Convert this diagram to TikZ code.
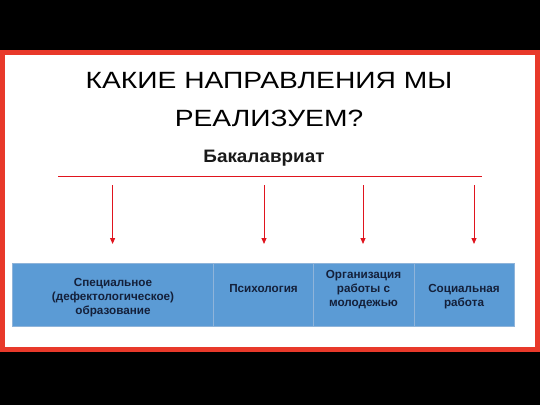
\documentclass[tikz,border=0pt]{standalone}
\usepackage{fontspec}
\setmainfont{Liberation Sans}
\newfontfamily\widefont[FakeStretch=1.2]{Liberation Sans}
\newfontfamily\subfont[FakeStretch=1.05]{Liberation Sans}
\usetikzlibrary{arrows.meta}
\definecolor{frame}{HTML}{E8392A}
\definecolor{arrred}{HTML}{E0141E}
\definecolor{cellblue}{HTML}{5B9BD5}
\definecolor{cellline}{HTML}{8FB4DA}
\definecolor{celltext}{HTML}{14203A}
\tikzset{
  title/.style={font=\widefont\fontsize{23.5}{38}\selectfont, align=center, text=black},
  sub/.style={font=\subfont\fontsize{18}{20}\selectfont\bfseries, text=black!90},
  cell/.style={fill=cellblue, draw=cellline, line width=0.6pt, minimum height=63pt, inner sep=0pt},
  celltxt/.style={font=\fontsize{11.7}{14}\selectfont\bfseries, text=celltext, align=center},
  downarrow/.style={draw=arrred, line width=1pt, -{Triangle[length=6pt,width=5pt]}},
}
\begin{document}
\begin{tikzpicture}[x=1pt,y=1pt]
\fill[black] (0,0) rectangle (540,405);
\useasboundingbox (0,0) rectangle (540,405);
\fill[frame] (0,53) rectangle (540,355);
\fill[white] (5,58) rectangle (535,350);
\node[title] (t) at (269,305.5) {КАКИЕ НАПРАВЛЕНИЯ МЫ\\[0pt]РЕАЛИЗУЕМ?};
\node[sub] (b) at (264,246.5) {Бакалавриат};
\coordinate (l1) at (58,229);
\coordinate (l2) at (482,229);
\draw[arrred, line width=0.9pt] (l1) -- (l2);
\node[cell, minimum width=200.5pt] (c1) at (113,110.5) {};
\node[cell, minimum width=100pt] (c2) at (263.5,110.5) {};
\node[cell, minimum width=101pt] (c3) at (364,110.5) {};
\node[cell, minimum width=100pt] (c4) at (464.5,110.5) {};
\node[celltxt] (x1) at (113,107) {Специальное\\(дефектологическое)\\образование};
\node[celltxt] (x2) at (263.5,116) {Психология};
\node[celltxt] (x3) at (363.5,115) {Организация\\работы с\\молодежью};
\node[celltxt] (x4) at (464,108) {Социальная\\работа};
\coordinate (a1) at (112.6,220);
\coordinate (a2) at (264,220);
\coordinate (a3) at (363,220);
\coordinate (a4) at (474,220);
\coordinate (e1) at (112.6,161);
\coordinate (e2) at (264,161);
\coordinate (e3) at (363,161);
\coordinate (e4) at (474,161);
\draw[downarrow] (a1) -- (e1);
\draw[downarrow] (a2) -- (e2);
\draw[downarrow] (a3) -- (e3);
\draw[downarrow] (a4) -- (e4);
\end{tikzpicture}
\end{document}
